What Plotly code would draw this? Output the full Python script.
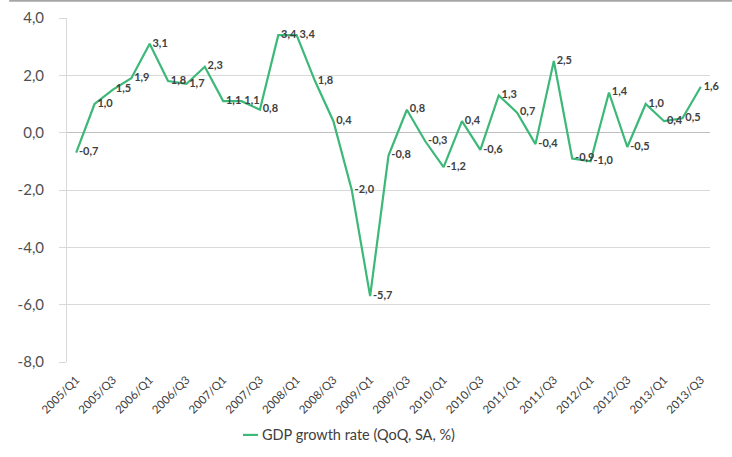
import plotly.graph_objects as go

quarters = [f"{y}/Q{q}" for y in range(2005, 2014) for q in range(1, 5)][:35]
gdp_growth = [-0.7, 1.0, 1.5, 1.9, 3.1, 1.8, 1.7, 2.3, 1.1, 1.1, 0.8, 3.4, 3.4, 1.8, 0.4, -2.0,
              -5.7, -0.8, 0.8, -0.3, -1.2, 0.4, -0.6, 1.3, 0.7, -0.4, 2.5, -0.9, -1.0, 1.4,
              -0.5, 1.0, 0.4, 0.5, 1.6]
tick_labels = quarters[::2]
y_ticks = [-8, -6, -4, -2, 0, 2, 4]
series_name = "GDP growth rate (QoQ, SA, %)"
line_color = "#3cb878"


def fmt(v):
    return f"{v:.1f}".replace(".", ",")


fig = go.Figure()
fig.add_trace(go.Scatter(
    x=quarters, y=gdp_growth, mode="lines+text",
    name=series_name, showlegend=False,
    line=dict(color=line_color, width=2.2),
    text=[f"\u00a0<b>{fmt(v)}</b>" for v in gdp_growth], textposition="middle right",
    textfont=dict(family="Lato, Arial", size=11, color="#404040"),
    cliponaxis=False,
))

fig.update_layout(
    width=732, height=457,
    margin=dict(l=67, r=22, t=18, b=95, autoexpand=False),
    paper_bgcolor="white", plot_bgcolor="white",
    font=dict(family="Lato, Arial", color="#404040"),
    showlegend=False,
    xaxis=dict(type="category", tickmode="array", tickvals=tick_labels, ticktext=tick_labels,
               tickangle=-45, tickfont=dict(size=11.5, color="#404040"), automargin=False,
               showgrid=False, showline=False, ticks="", ticklabelstandoff=8,
               range=[-0.5, 34.5]),
    yaxis=dict(range=[-8, 4], tickvals=y_ticks,
               ticktext=[fmt(v) for v in y_ticks],
               tickfont=dict(size=15, color="#505050"), automargin=False,
               showgrid=True, gridcolor="#d9d9d9", gridwidth=1,
               zeroline=True, zerolinecolor="#bfbfbf", zerolinewidth=1,
               showline=True, linecolor="#d9d9d9",
               ticks="outside", ticklen=7, tickcolor="#d9d9d9", ticklabelstandoff=12),
)
# top border line
fig.add_shape(type="line", xref="paper", yref="paper", x0=-0.09, x1=1.04, y0=1.05, y1=1.05,
              line=dict(color="#a6a6a6", width=2))
# legend (manual, short line sample)
fig.add_shape(type="line", xref="paper", yref="paper", x0=0.2737, x1=0.297, y0=-0.212, y1=-0.212,
              line=dict(color=line_color, width=2.2))
fig.add_annotation(xref="paper", yref="paper", x=0.300, y=-0.212, xanchor="left", yanchor="middle",
                   text=series_name, showarrow=False,
                   font=dict(family="Lato, Arial", size=14.5, color="#404040"))

fig.write_html("out.html")
